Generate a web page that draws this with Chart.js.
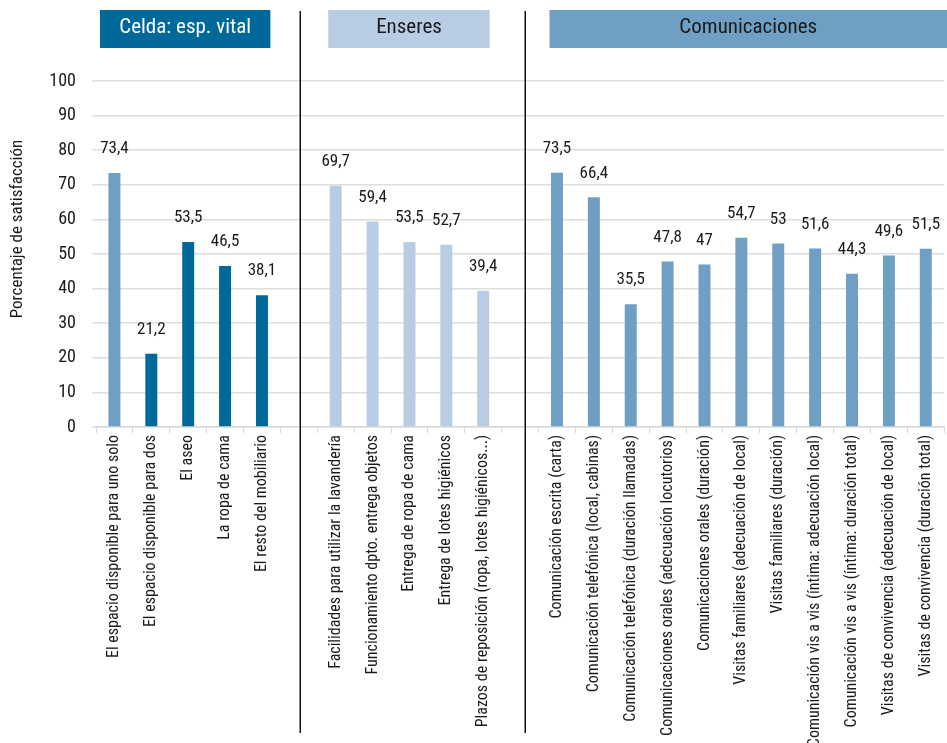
<!DOCTYPE html>
<html lang="es">
<head>
<meta charset="utf-8">
<script src="https://cdn.jsdelivr.net/npm/chart.js@4/dist/chart.umd.min.js"></script>
<style>
  html, body { margin: 0; padding: 0; background: #ffffff; }
  #wrap { width: 947px; height: 743px; position: relative; }
</style>
</head>
<body>
<div id="wrap"><canvas id="c" width="947" height="743"></canvas></div>
<script>
// Celda: espacio vital
const celdaLabels = [
  'El espacio disponible para uno solo',
  'El espacio disponible para dos',
  'El aseo',
  'La ropa de cama',
  'El resto del mobiliario'
];
const celdaValues = [73.4, 21.2, 53.5, 46.5, 38.1];

// Enseres
const enseresLabels = [
  'Facilidades para utilizar la lavandería',
  'Funcionamiento dpto. entrega objetos',
  'Entrega de ropa de cama',
  'Entrega de lotes higiénicos',
  'Plazos de reposición (ropa, lotes higiénicos...)'
];
const enseresValues = [69.7, 59.4, 53.5, 52.7, 39.4];

// Comunicaciones
const comLabels = [
  'Comunicación escrita (carta)',
  'Comunicación telefónica (local, cabinas)',
  'Comunicación telefónica (duración llamadas)',
  'Comunicaciones orales (adecuación locutorios)',
  'Comunicaciones orales (duración)',
  'Visitas familiares (adecuación de local)',
  'Visitas familiares (duración)',
  'Comunicación vis a vis (íntima: adecuación local)',
  'Comunicación vis a vis (íntima: duración total)',
  'Visitas de convivencia (adecuación de local)',
  'Visitas de convivencia (duración total)'
];
const comValues = [73.5, 66.4, 35.5, 47.8, 47, 54.7, 53, 51.6, 44.3, 49.6, 51.5];

const groupTitles = ['Celda: esp. vital', 'Enseres', 'Comunicaciones'];
const yAxisTitle = 'Porcentaje de satisfacción';
const yTicks = [0, 10, 20, 30, 40, 50, 60, 70, 80, 90, 100];

const DARK = '#00699a';
const MID = '#6f9fc2';
const LIGHT = '#b8cce3';
const FONT = "'Roboto Condensed', 'Liberation Sans Narrow', 'Arial Narrow', 'Liberation Sans', sans-serif";

// Category axis with an empty slot between groups
const labels = [...celdaLabels, '', ...enseresLabels, '', ...comLabels];
const values = [...celdaValues, null, ...enseresValues, null, ...comValues];
const colors = [
  ...celdaValues.map((v, i) => i === 0 ? MID : DARK),
  'rgba(0,0,0,0)',
  ...enseresValues.map(() => LIGHT),
  'rgba(0,0,0,0)',
  ...comValues.map(() => MID)
];

const gStart1 = 0, gEnd1 = celdaLabels.length - 1;
const gap1 = celdaLabels.length;
const gStart2 = gap1 + 1, gEnd2 = gStart2 + enseresLabels.length - 1;
const gap2 = gEnd2 + 1;
const gStart3 = gap2 + 1;

// Group headers, separators and the vertical axis title
const decorPlugin = {
  id: 'decor',
  afterDraw(chart) {
    const ctx = chart.ctx;
    const x = chart.scales.x;
    const step = x.getPixelForValue(1) - x.getPixelForValue(0);
    const left = i => x.getPixelForValue(i) - step / 2;
    const right = i => x.getPixelForValue(i) + step / 2;

    ctx.save();
    ctx.strokeStyle = '#111111';
    ctx.lineWidth = 1.5;
    [x.getPixelForValue(gap1) + 1, x.getPixelForValue(gap2) + 5].forEach(px => {
      ctx.beginPath();
      ctx.moveTo(Math.round(px) + 0.25, 11);
      ctx.lineTo(Math.round(px) + 0.25, 733);
      ctx.stroke();
    });

    const boxes = [
      { x0: left(gStart1) + 4, x1: right(gEnd1) - 10, fill: DARK, color: '#ffffff', text: groupTitles[0] },
      { x0: left(gStart2) + 11, x1: right(gEnd2) - 12, fill: LIGHT, color: '#1a1a1a', text: groupTitles[1] },
      { x0: left(gStart3) + 11, x1: chart.width, fill: MID, color: '#1a1a1a', text: groupTitles[2] }
    ];
    boxes.forEach(b => {
      ctx.fillStyle = b.fill;
      ctx.fillRect(b.x0, 10, b.x1 - b.x0, 38);
      ctx.fillStyle = b.color;
      ctx.font = '21px ' + FONT;
      ctx.textAlign = 'center';
      ctx.textBaseline = 'middle';
      ctx.fillText(b.text, (b.x0 + b.x1) / 2, 28);
    });

    // y axis title
    ctx.translate(18, 229);
    ctx.rotate(-Math.PI / 2);
    ctx.fillStyle = '#1a1a1a';
    ctx.font = '17px ' + FONT;
    ctx.textAlign = 'center';
    ctx.textBaseline = 'middle';
    ctx.fillText(yAxisTitle, 0, 0);
    ctx.restore();
  }
};

// Value labels above each bar
const valueLabelPlugin = {
  id: 'valueLabels',
  afterDatasetsDraw(chart) {
    const ctx = chart.ctx;
    const meta = chart.getDatasetMeta(0);
    const data = chart.data.datasets[0].data;
    ctx.save();
    ctx.fillStyle = '#1a1a1a';
    ctx.font = '17px ' + FONT;
    ctx.textAlign = 'center';
    ctx.textBaseline = 'middle';
    meta.data.forEach((bar, i) => {
      const v = data[i];
      if (v === null || v === undefined) return;
      ctx.fillText(String(v).replace('.', ','), bar.x, bar.y - 24);
    });
    ctx.restore();
  }
};

new Chart(document.getElementById('c'), {
  type: 'bar',
  data: {
    labels,
    datasets: [{
      data: values,
      backgroundColor: colors,
      borderWidth: 0,
      barPercentage: 0.65,
      categoryPercentage: 0.5
    }]
  },
  plugins: [decorPlugin, valueLabelPlugin],
  options: {
    responsive: false,
    animation: false,
    devicePixelRatio: 1,
    layout: { padding: { left: 6, top: 81, right: 1, bottom: 0 } },
    plugins: {
      legend: { display: false },
      tooltip: { enabled: false }
    },
    scales: {
      x: {
        grid: {
          display: true,
          drawOnChartArea: false,
          drawTicks: true,
          tickLength: 6,
          color: '#d9d9d9',
          offset: true
        },
        border: { display: true, color: '#d9d9d9', width: 1.5 },
        ticks: {
          autoSkip: false,
          maxRotation: 90,
          minRotation: 90,
          padding: 2,
          color: '#1a1a1a',
          font: { family: FONT, size: 16 }
        },
        afterFit(scale) { scale.height = 743 - 427; }
      },
      y: {
        min: 0,
        max: 100,
        afterBuildTicks(scale) { scale.ticks = yTicks.map(v => ({ value: v })); },
        grid: {
          color: '#dedede',
          lineWidth: 1.5,
          drawTicks: true,
          tickLength: 4
        },
        border: { display: false },
        ticks: {
          padding: 16,
          color: '#1a1a1a',
          font: { family: FONT, size: 18 }
        },
        afterFit(scale) { scale.width = 96 - 6; }
      }
    }
  }
});
</script>
</body>
</html>
